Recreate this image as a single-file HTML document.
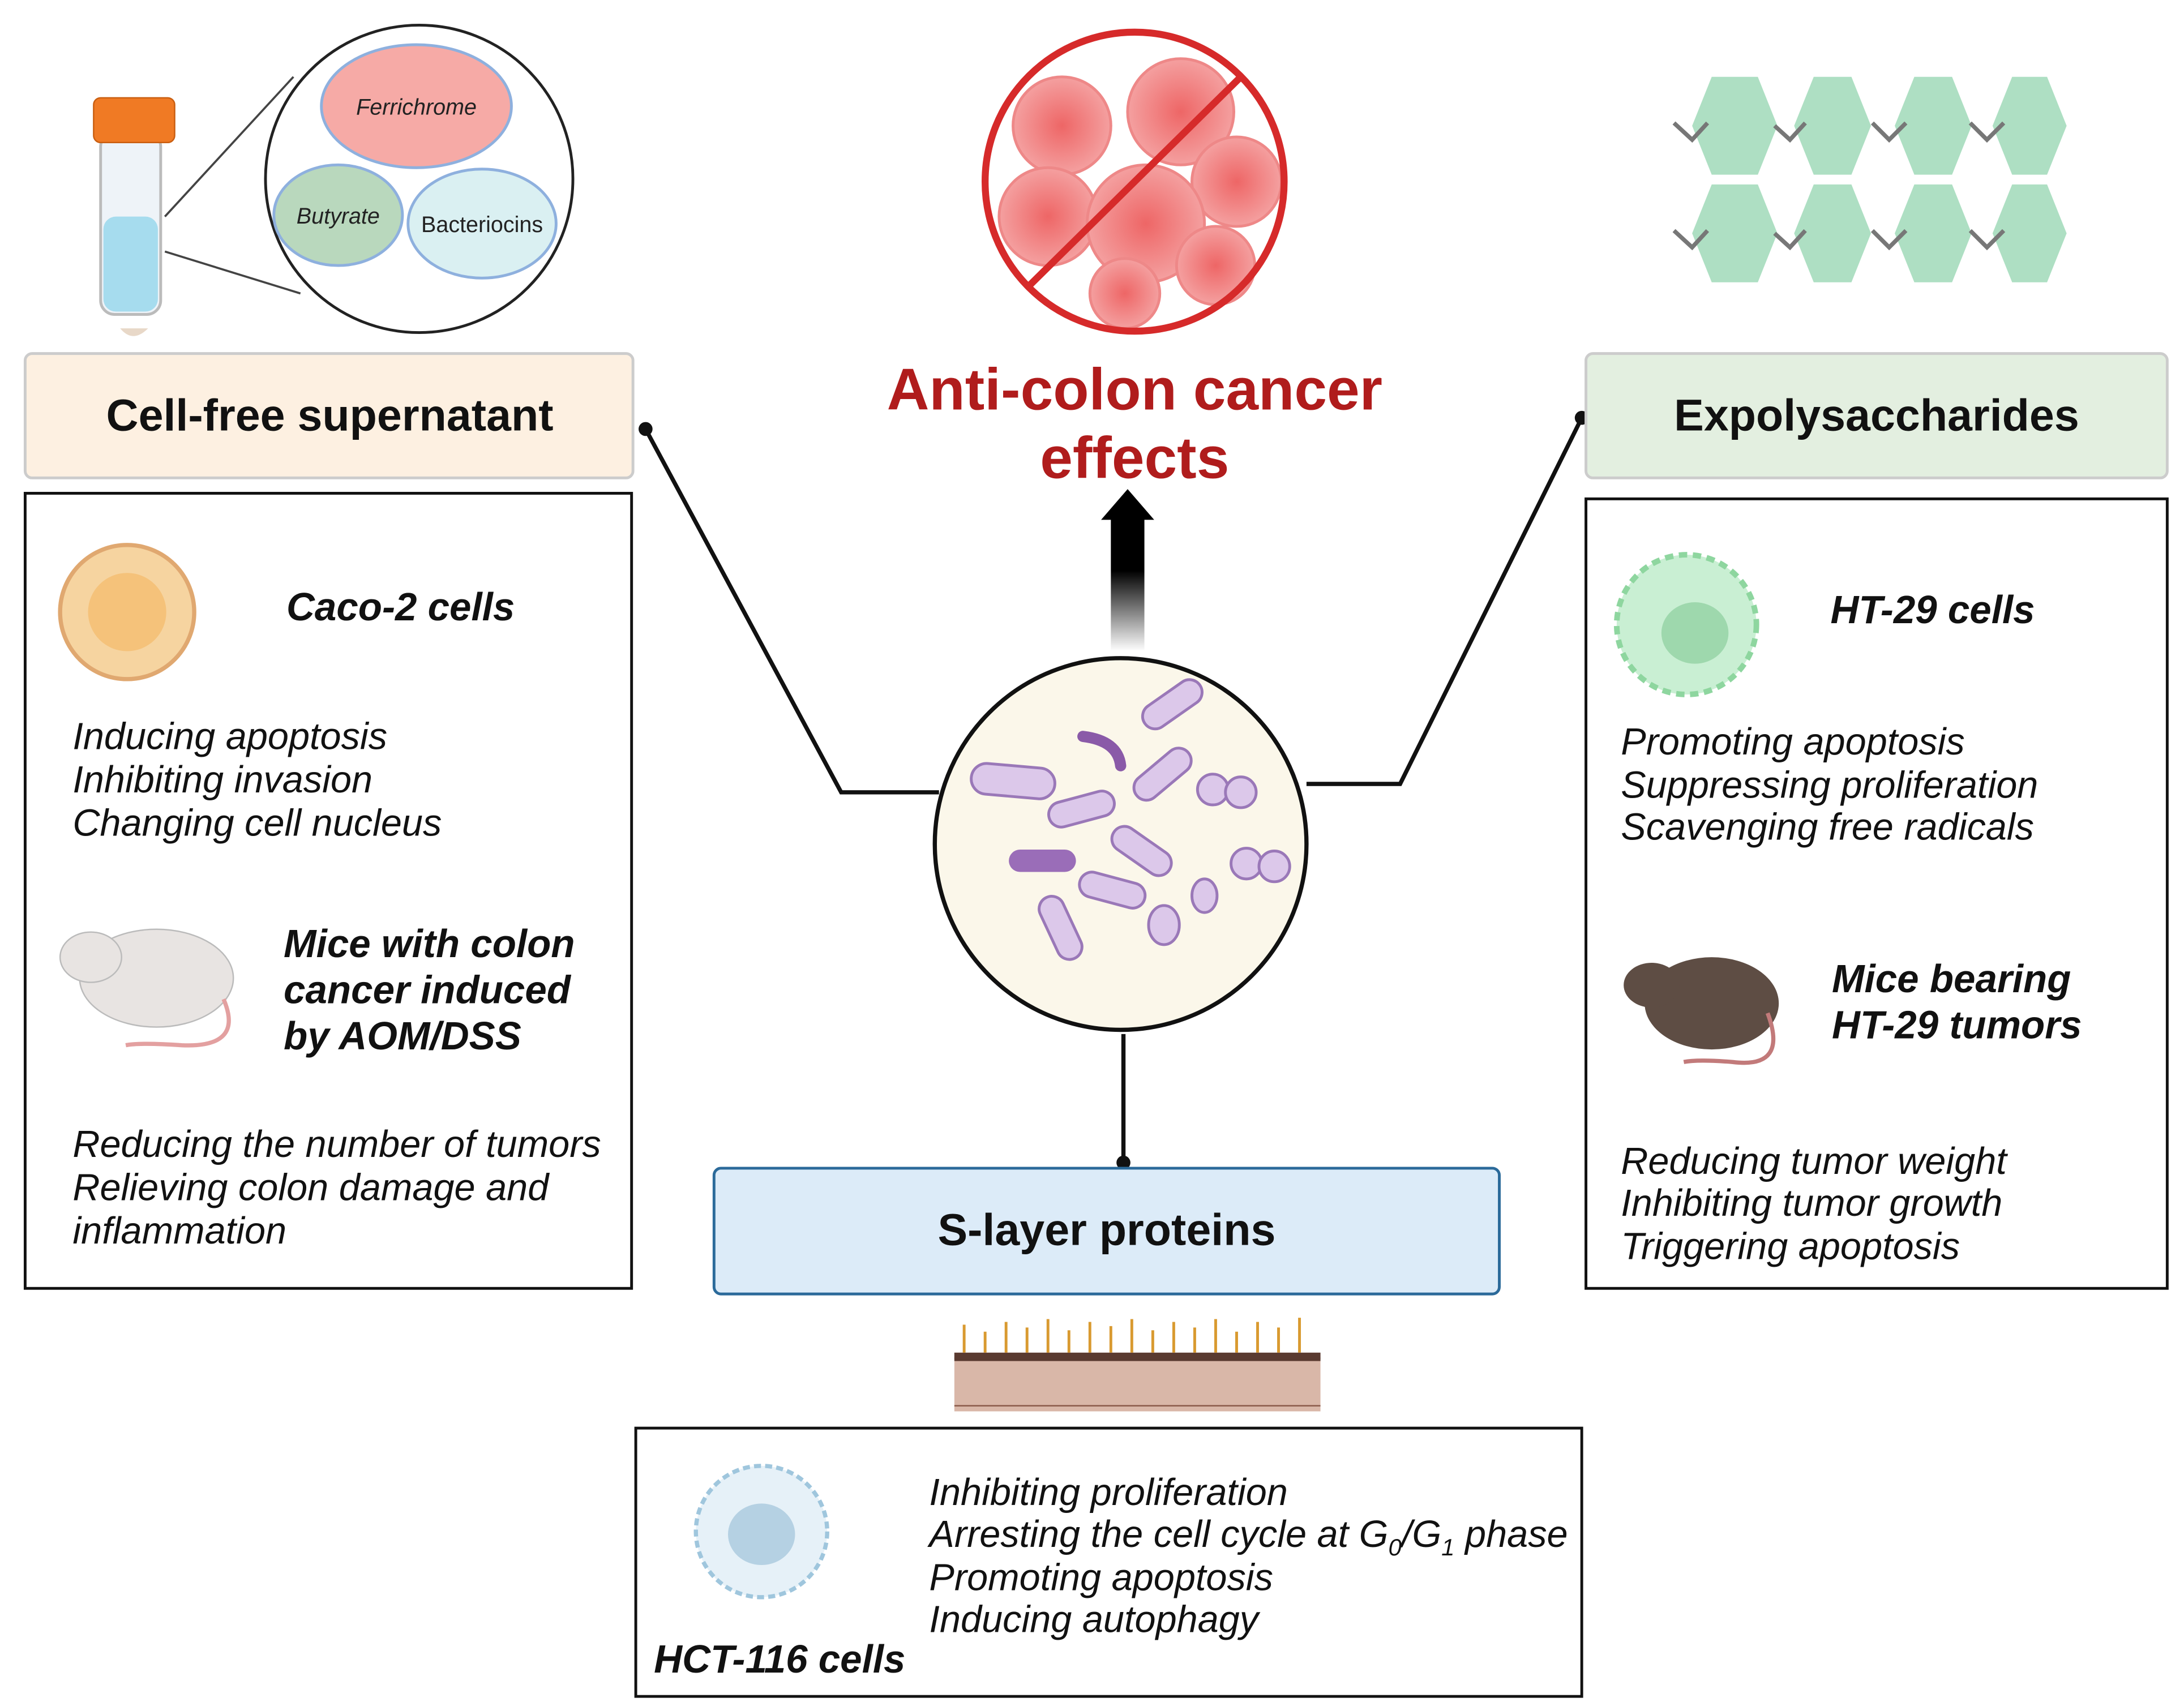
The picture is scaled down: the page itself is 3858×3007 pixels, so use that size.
<!DOCTYPE html>
<html><head><meta charset="utf-8"><style>
html,body{margin:0;padding:0;background:#fff;}
svg{display:block;}
text{font-family:"Liberation Sans",sans-serif;}
.it{font-style:italic;font-size:27px;fill:#111;}
.bi{font-style:italic;font-weight:bold;font-size:28px;fill:#111;}
.hd{font-weight:bold;font-size:32px;fill:#111;}
</style></head><body>
<svg width="3858" height="3007" viewBox="0 0 1563 1218" preserveAspectRatio="none" xmlns="http://www.w3.org/2000/svg">
<defs>
<linearGradient id="ag" x1="0" y1="1" x2="0" y2="0"><stop offset="0" stop-color="#000" stop-opacity="0"/><stop offset="0.6" stop-color="#000"/></linearGradient>
<radialGradient id="cell" cx="0.5" cy="0.5" r="0.5"><stop offset="0" stop-color="#e66"/><stop offset="1" stop-color="#f4a0a0"/></radialGradient>
</defs>
<rect width="1563" height="1218" fill="#fff"/>

<g stroke="#111" stroke-width="3" fill="none">
<polyline points="462,307 602,567 672,567"/>
<polyline points="1132,299 1002,561 935,561"/>
<line x1="804" y1="740" x2="804" y2="832"/>
</g>
<circle cx="462" cy="307" r="5" fill="#111"/>
<circle cx="1132" cy="299" r="5" fill="#111"/>
<circle cx="804" cy="832" r="5" fill="#111"/>

<rect x="18" y="253" width="435" height="89" rx="5" fill="#fdf0e1" stroke="#ccc" stroke-width="2"/>
<text x="236" y="308" text-anchor="middle" class="hd">Cell-free supernatant</text>
<rect x="1135" y="253" width="416" height="89" rx="5" fill="#e3efe0" stroke="#ccc" stroke-width="2"/>
<text x="1343" y="308" text-anchor="middle" class="hd">Expolysaccharides</text>
<rect x="511" y="836" width="562" height="90" rx="5" fill="#dcebf8" stroke="#2b6a9a" stroke-width="2"/>
<text x="792" y="891" text-anchor="middle" class="hd">S-layer proteins</text>

<rect x="18" y="353" width="434" height="569" fill="none" stroke="#111" stroke-width="2"/>
<rect x="1135" y="357" width="416" height="565" fill="none" stroke="#111" stroke-width="2"/>
<rect x="455" y="1022" width="677" height="192" fill="none" stroke="#111" stroke-width="2"/>

<circle cx="91" cy="438" r="48" fill="#f6d4a0" stroke="#e0a870" stroke-width="3"/>
<circle cx="91" cy="438" r="28" fill="#f5c27a"/>
<text x="205" y="444" class="bi">Caco-2 cells</text>
<text x="52" y="536" class="it">Inducing apoptosis</text>
<text x="52" y="567" class="it">Inhibiting invasion</text>
<text x="52" y="598" class="it">Changing cell nucleus</text>
<ellipse cx="112" cy="700" rx="55" ry="35" fill="#e8e4e2" stroke="#bbb"/>
<ellipse cx="65" cy="685" rx="22" ry="18" fill="#e8e4e2" stroke="#bbb"/>
<path d="M160 715 Q175 750 130 748 Q100 746 90 748" stroke="#e3a0a0" stroke-width="3" fill="none"/>
<text x="203" y="685" class="bi">Mice with colon</text>
<text x="203" y="718" class="bi">cancer induced</text>
<text x="203" y="751" class="bi">by AOM/DSS</text>
<text x="52" y="828" class="it">Reducing the number of tumors</text>
<text x="52" y="859" class="it">Relieving colon damage and</text>
<text x="52" y="890" class="it">inflammation</text>

<circle cx="1207" cy="447" r="50" fill="#c9efd3" stroke="#8ed69f" stroke-width="4" stroke-dasharray="6 4"/>
<ellipse cx="1213" cy="453" rx="24" ry="22" fill="#9ed8ad"/>
<text x="1310" y="446" class="bi">HT-29 cells</text>
<text x="1160" y="540" class="it">Promoting apoptosis</text>
<text x="1160" y="571" class="it">Suppressing proliferation</text>
<text x="1160" y="601" class="it">Scavenging free radicals</text>
<ellipse cx="1225" cy="718" rx="48" ry="33" fill="#5e4d44"/>
<ellipse cx="1182" cy="705" rx="20" ry="16" fill="#5e4d44"/>
<path d="M1265 725 Q1280 765 1240 760 Q1215 758 1205 760" stroke="#c27a7a" stroke-width="3" fill="none"/>
<text x="1311" y="710" class="bi">Mice bearing</text>
<text x="1311" y="743" class="bi">HT-29 tumors</text>
<text x="1160" y="840" class="it">Reducing tumor weight</text>
<text x="1160" y="870" class="it">Inhibiting tumor growth</text>
<text x="1160" y="901" class="it">Triggering apoptosis</text>

<circle cx="545" cy="1096" r="47" fill="#e6f1f8" stroke="#9fc6dd" stroke-width="3" stroke-dasharray="5 3"/>
<ellipse cx="545" cy="1098" rx="24" ry="22" fill="#b5d1e3"/>
<text x="665" y="1077" class="it">Inhibiting proliferation</text>
<text x="665" y="1107" class="it">Arresting the cell cycle at G<tspan font-size="17" dy="6">0</tspan><tspan dy="-6">/G</tspan><tspan font-size="17" dy="6">1</tspan><tspan dy="-6"> phase</tspan></text>
<text x="665" y="1138" class="it">Promoting apoptosis</text>
<text x="665" y="1168" class="it">Inducing autophagy</text>
<text x="468" y="1197" class="bi">HCT-116 cells</text>

<rect x="683" y="968" width="262" height="42" fill="#d9b7a8"/>
<g stroke="#8a5a4a" stroke-width="1">
<line x1="683" y1="972" x2="945" y2="972"/><line x1="683" y1="1006" x2="945" y2="1006"/>
</g>
<rect x="683" y="968" width="262" height="6" fill="#5a3a30"/>
<g stroke="#d99a30" stroke-width="2">
<path d="M690 968v-20M705 968v-15M720 968v-22M735 968v-18M750 968v-24M765 968v-16M780 968v-22M795 968v-19M810 968v-24M825 968v-16M840 968v-22M855 968v-18M870 968v-24M885 968v-15M900 968v-22M915 968v-18M930 968v-25"/>
</g>

<text x="812" y="293" text-anchor="middle" font-weight="bold" font-size="42" fill="#b01c1c">Anti-colon cancer</text>
<text x="812" y="342" text-anchor="middle" font-weight="bold" font-size="42" fill="#b01c1c">effects</text>
<rect x="795" y="370" width="24" height="96" fill="url(#ag)"/>
<polygon points="788,372 826,372 807,350" fill="#000"/>

<circle cx="802" cy="604" r="133" fill="#fbf7ea" stroke="#111" stroke-width="3"/>
<g fill="#dcc8ea" stroke="#9a78b8" stroke-width="2">
<rect x="695" y="548" width="60" height="22" rx="11" transform="rotate(5 725 559)"/>
<rect x="815" y="495" width="48" height="18" rx="9" transform="rotate(-35 839 504)"/>
<rect x="808" y="545" width="48" height="18" rx="9" transform="rotate(-40 832 554)"/>
<rect x="750" y="570" width="48" height="18" rx="9" transform="rotate(-15 774 579)"/>
<rect x="793" y="600" width="48" height="18" rx="9" transform="rotate(35 817 609)"/>
<rect x="772" y="628" width="48" height="18" rx="9" transform="rotate(15 796 637)"/>
<rect x="735" y="655" width="48" height="18" rx="9" transform="rotate(65 759 664)"/>
<circle cx="868" cy="565" r="11"/><circle cx="888" cy="567" r="11"/>
<circle cx="892" cy="618" r="11"/><circle cx="912" cy="620" r="11"/>
<ellipse cx="833" cy="662" rx="11" ry="14"/><ellipse cx="862" cy="641" rx="9" ry="12"/>
</g>
<rect x="722" y="608" width="48" height="16" rx="8" fill="#9a6db8"/>
<path d="M775 527 Q800 530 802 548" stroke="#8a5aa8" stroke-width="8" fill="none" stroke-linecap="round"/>

<rect x="72" y="95" width="43" height="130" rx="10" fill="#eef3f8" stroke="#bbb" stroke-width="2"/>
<rect x="74" y="155" width="39" height="68" rx="9" fill="#a6dcee"/>
<path d="M86 235 Q95 246 106 235 Z" fill="#e8d8c8"/>
<rect x="67" y="70" width="58" height="32" rx="5" fill="#f07a24" stroke="#c95e10"/>
<circle cx="300" cy="128" r="110" fill="#fff" stroke="#222" stroke-width="2"/>
<line x1="118" y1="155" x2="210" y2="55" stroke="#444" stroke-width="1.5"/>
<line x1="118" y1="180" x2="215" y2="210" stroke="#444" stroke-width="1.5"/>
<ellipse cx="298" cy="76" rx="68" ry="44" fill="#f6aaa6" stroke="#8eb0de" stroke-width="2"/>
<text x="298" y="82" text-anchor="middle" font-style="italic" font-size="16" fill="#222">Ferrichrome</text>
<ellipse cx="242" cy="154" rx="46" ry="36" fill="#b9d8bd" stroke="#8eb0de" stroke-width="2"/>
<text x="242" y="160" text-anchor="middle" font-style="italic" font-size="16" fill="#222">Butyrate</text>
<ellipse cx="345" cy="160" rx="53" ry="39" fill="#daf0f2" stroke="#8eb0de" stroke-width="2"/>
<text x="345" y="166" text-anchor="middle" font-size="16" fill="#222">Bacteriocins</text>

<circle cx="812" cy="130" r="105" fill="#fff"/>
<g fill="url(#cell)" stroke="#e88" stroke-width="2">
<circle cx="760" cy="90" r="35"/><circle cx="845" cy="80" r="38"/><circle cx="885" cy="130" r="32"/>
<circle cx="750" cy="155" r="35"/><circle cx="820" cy="160" r="42"/><circle cx="870" cy="190" r="28"/><circle cx="805" cy="210" r="25"/>
</g>
<circle cx="812" cy="130" r="107" fill="none" stroke="#d62a2a" stroke-width="5"/>
<line x1="888" y1="55" x2="736" y2="205" stroke="#d62a2a" stroke-width="5"/>

<g fill="#aedfc3">
<polygon points="1225,55 1258,55 1272,90 1258,125 1225,125 1211,90"/>
<polygon points="1298,55 1325,55 1339,90 1325,125 1298,125 1284,90"/>
<polygon points="1370,55 1397,55 1411,90 1397,125 1370,125 1356,90"/>
<polygon points="1440,55 1465,55 1479,90 1465,125 1440,125 1426,90"/>
<polygon points="1225,132 1258,132 1272,167 1258,202 1225,202 1211,167"/>
<polygon points="1298,132 1325,132 1339,167 1325,202 1298,202 1284,167"/>
<polygon points="1370,132 1397,132 1411,167 1397,202 1370,202 1356,167"/>
<polygon points="1440,132 1465,132 1479,167 1465,202 1440,202 1426,167"/>
</g>
<g stroke="#777" stroke-width="3" fill="none">
<polyline points="1198,88 1211,100 1222,88"/><polyline points="1270,90 1281,100 1292,88"/><polyline points="1340,88 1352,100 1364,88"/><polyline points="1410,88 1422,100 1434,88"/>
<polyline points="1198,165 1211,177 1222,165"/><polyline points="1270,167 1281,177 1292,165"/><polyline points="1340,165 1352,177 1364,165"/><polyline points="1410,165 1422,177 1434,165"/>
</g>
</svg>
</body></html>
